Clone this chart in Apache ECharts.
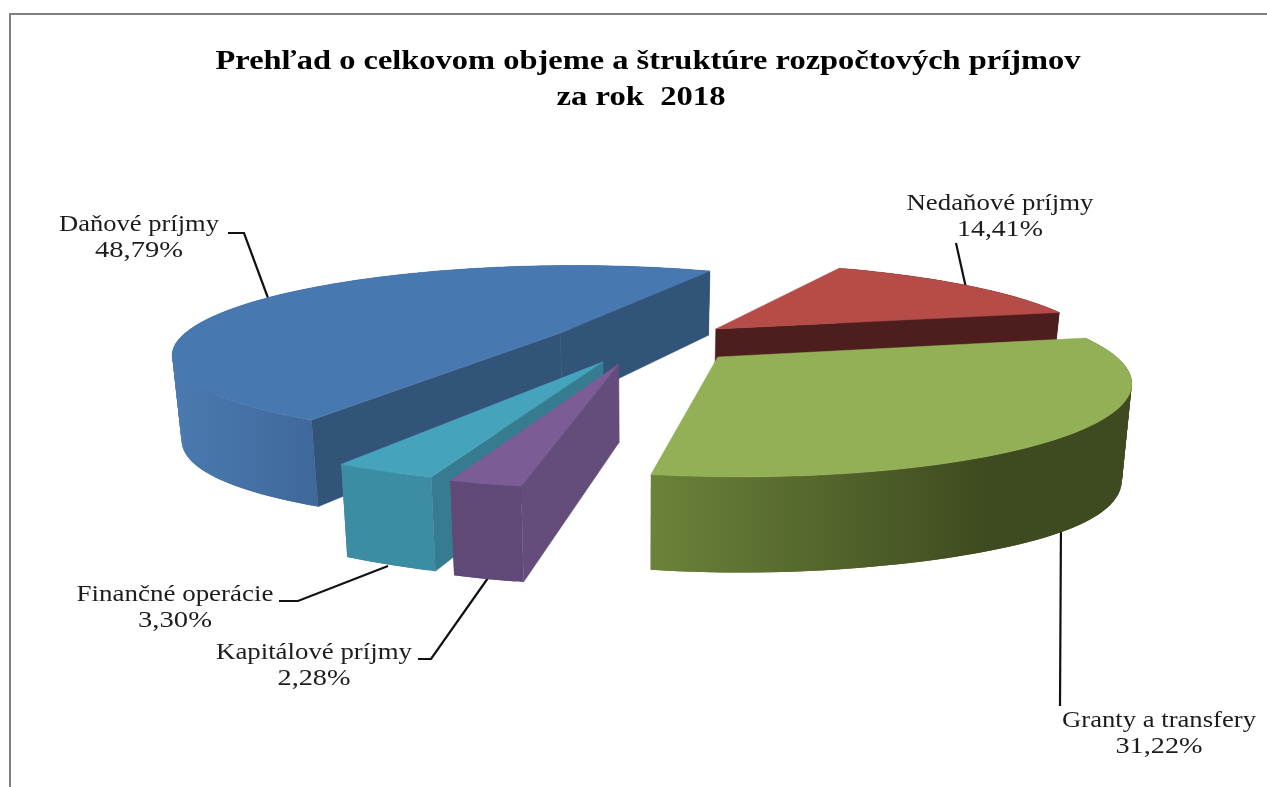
<!DOCTYPE html>
<html><head><meta charset="utf-8">
<style>html,body{margin:0;padding:0;background:#fff}#c{position:absolute;left:0;top:0;width:1267px;height:787px;filter:blur(0.45px)}
#f1{position:absolute;left:9px;top:13px;right:0;height:2px;background:#808080}
#f2{position:absolute;left:9px;top:13px;bottom:0;width:2px;background:#808080}</style>
<script src="https://cdn.jsdelivr.net/npm/echarts@6/dist/echarts.min.js"></script>
</head><body><div id="f1"></div><div id="f2"></div><div id="c"></div>
<script>
// --- data ---
const titleLines = ['Prehľad o celkovom objeme a štruktúre rozpočtových príjmov', 'za rok  2018'];
const names = ['Daňové príjmy', 'Nedaňové príjmy', 'Granty a transfery', 'Kapitálové príjmy', 'Finančné operácie'];
const shares = [48.79, 14.41, 31.22, 2.28, 3.30];
// --- layout ---
const startAngle = 239.9;
const explode = [[-81, 7.1], [78, 11.4], [74.5, -16.3], [-20, -22.6], [-35, -20.7]];
const zOrder = [1, 0, 2, 4, 3];
const topColors = ['#4878b0', '#b64c48', '#93b056', '#7b5c96', '#46a3bc'];
const edgeColors = ['#325479', '#4e1e1e', '#5a6f30', '#654d7b', '#367b8f'];
const wallStops = [
  [172, 318, '#4a7ab0', '#3f689b'],
  [716, 1059, '#4e1e1e', '#4e1e1e'],
  [648, 990, '#6b833a', '#3e4a1f'],
  [449, 524, '#604877', '#604877'],
  [338, 434, '#3c8ca4', '#3c8ca4']
];
const labelBoxes = [ // centre x, first line y, widths of both lines
  [139, 225, 160, 88], [1000, 204, 187, 86], [1159, 721, 194, 87], [314, 653, 196, 73], [175, 595, 197, 74]
];
const leaders = [
  [[228, 233], [244, 233], [268, 298]],
  [[956, 243], [966, 288]],
  [[1061, 518], [1060, 706]],
  [[488, 578], [431, 659], [418, 659]],
  [[388, 566], [298, 601], [279, 601]]
];
const R = {x0: 640, rx: 382, ry: 85, d: 390, yh: -50};

const ctx = document.createElement('canvas').getContext('2d');
function fitted(str, cx, cy, target, font, color, weight) {
  ctx.font = weight + ' ' + font + 'px "Liberation Serif"';
  const w = ctx.measureText(str).width;
  return {type: 'text', x: cx, y: cy, scaleX: target / w, z2: 50, silent: true,
    style: {text: str, fontFamily: '"Liberation Serif"', fontSize: font, fontWeight: weight, fill: color, align: 'center', verticalAlign: 'middle'}};
}
function project(u, v) {
  const s = R.d / (R.d + v);
  return {x: R.x0 + u * s, y: R.yh + R.d * s, s};
}
const topPt = p => [p.x, p.y];
function botPt(p) {
  const e = (p.x - R.x0) / 470;
  const h = 14.9 + 59.8 * p.s + 12 * e * e * e * e - 0.01 * Math.max(0, R.x0 - p.x);
  return [R.x0 + (p.x - R.x0) * 0.98, p.y + h];
}

const total = shares.reduce((a, b) => a + b, 0);
const starts = [];
shares.reduce((acc, v, i) => { starts[i] = acc; return acc - v / total * 360; }, startAngle);

function renderSlice(params, api) {
  const i = api.value(1);
  const sweep = api.value(0) / total * 360;
  const a0 = starts[i], a1 = a0 - sweep;
  const [ex, ey] = explode[i];
  const apex = project(ex, ey);
  const arc = [];
  const n = Math.max(8, Math.ceil(sweep));
  for (let k = 0; k <= n; k++) {
    const t = (a0 + (a1 - a0) * k / n) * Math.PI / 180;
    arc.push(project(ex + R.rx * Math.cos(t), ey + R.ry * Math.sin(t)));
  }
  const z = zOrder[i] * 5;
  const kids = [];
  // outer wall, overlapping pieces so no seams show
  const ws = wallStops[i];
  const grad = {type: 'linear', global: true, x: ws[0], y: 0, x2: ws[1], y2: 0,
    colorStops: [{offset: 0, color: ws[2]}, {offset: 1, color: ws[3]}]};
  for (let k = 0; k < n; k++) {
    const m = Math.min(k + 2, n);
    kids.push({type: 'polygon', shape: {points: [topPt(arc[k]), topPt(arc[m]), botPt(arc[m]), botPt(arc[k])]}, z2: z,
      style: {fill: grad}});
  }
  // radial walls: only those turned towards the viewer
  const mid = arc[Math.floor(n / 2)];
  [arc[0], arc[n]].forEach(end => {
    const dx = end.x - apex.x, dy = end.y - apex.y;
    const side = dx * (mid.y - apex.y) - dy * (mid.x - apex.x);
    if (dx * side < 0) {
      kids.push({type: 'polygon', shape: {points: [topPt(apex), topPt(end), botPt(end), botPt(apex)]}, z2: z + 1,
        style: {fill: edgeColors[i], stroke: edgeColors[i], lineWidth: 0.5}});
    }
  });
  // top face
  kids.push({type: 'polygon', shape: {points: [topPt(apex)].concat(arc.map(topPt))}, z2: z + 2,
    style: {fill: topColors[i], stroke: topColors[i], lineWidth: 0.5}});
  // leader and label
  kids.push({type: 'polyline', shape: {points: leaders[i]}, z2: -1, style: {stroke: '#111', lineWidth: 2.2, fill: null}});
  const b = labelBoxes[i];
  const pct = api.value(0).toFixed(2).replace('.', ',') + '%';
  kids.push(fitted(names[i], b[0], b[1], b[2], 23, '#1c1c1c', 'normal'));
  kids.push(fitted(pct, b[0], b[1] + 26, b[3], 23, '#1c1c1c', 'normal'));
  return {type: 'group', children: kids};
}

const chart = echarts.init(document.getElementById('c'), null, {renderer: 'canvas'});
chart.setOption({
  animation: false,
  backgroundColor: 'transparent',
  graphic: [
    fitted(titleLines[0], 648, 62, 865, 28, '#000', 'bold'),
    fitted(titleLines[1], 641, 98, 169, 28, '#000', 'bold')
  ],
  series: [{
    type: 'custom',
    coordinateSystem: 'none',
    renderItem: renderSlice,
    data: shares.map((v, i) => ({name: names[i], value: [v, i]}))
  }]
});
</script></body></html>
